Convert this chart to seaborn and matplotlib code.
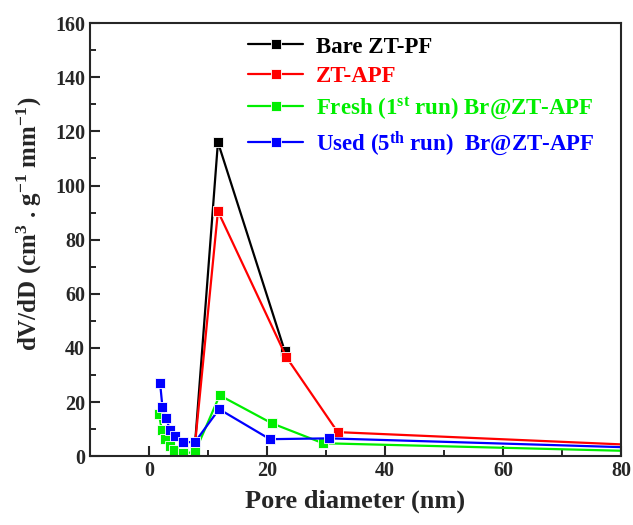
"""Pore size distribution of the ZT-PF samples"""

import numpy as np
import pandas as pd
import matplotlib.pyplot as plt
import seaborn as sns
from matplotlib.ticker import MultipleLocator

# values
bare_x = [7.8, 11.7, 23.0]
bare_y = [4.0, 116.0, 39.0]

apf_x = [7.8, 11.7, 23.3, 32.0, 84.0]
apf_y = [4.0, 90.5, 36.6, 8.9, 4.0]

fresh_x = [1.7, 2.2, 2.7, 3.6, 4.3, 5.7, 7.8, 12.0, 20.8, 29.5, 84.0]
fresh_y = [15.5, 9.6, 6.3, 3.7, 2.2, 1.1, 1.5, 22.5, 12.2, 4.8, 1.8]

used_x = [1.9, 2.3, 2.9, 3.6, 4.4, 5.7, 7.8, 11.9, 20.5, 30.5, 84.0]
used_y = [27.0, 18.0, 14.0, 9.6, 7.4, 5.2, 5.2, 17.4, 6.3, 6.6, 3.1]

labels = ["Bare ZT-PF",
          "ZT-APF",
          r"Fresh (1$^{\mathbf{st}}$ run) Br@ZT-APF",
          r"Used (5$^{\mathbf{th}}$ run)  Br@ZT-APF"]
colors = ["black", "#ff0000", "#00ee00", "#0000ff"]

sns.set_style("ticks")
plt.rcParams["font.family"] = ["Liberation Serif", "DejaVu Serif"]
plt.rcParams["font.weight"] = "bold"
plt.rcParams["mathtext.fontset"] = "custom"
plt.rcParams["mathtext.rm"] = "Liberation Serif:bold"
plt.rcParams["mathtext.bf"] = "Liberation Serif:bold"
plt.rcParams["mathtext.it"] = "Liberation Serif:bold"

fig = plt.figure(figsize=(6.33, 5.25), dpi=100)
ax = fig.add_axes([0.142, 0.131, 0.839, 0.825])

series = [(bare_x, bare_y), (apf_x, apf_y), (fresh_x, fresh_y), (used_x, used_y)]
for (xs, ys), label, color in zip(series, labels, colors):
    df = pd.DataFrame({"d": xs, "v": ys})
    sns.lineplot(data=df, x="d", y="v", ax=ax, sort=False, color=color,
                 marker="s", markersize=7.5, markeredgecolor="white",
                 markeredgewidth=0.6, linewidth=1.6, label=label)

ax.set_xlim(-10, 80)
ax.set_ylim(0, 160)
ax.xaxis.set_major_locator(MultipleLocator(20))
ax.xaxis.set_minor_locator(MultipleLocator(10))
ax.yaxis.set_major_locator(MultipleLocator(20))
ax.yaxis.set_minor_locator(MultipleLocator(10))
ax.tick_params(which="major", direction="in", length=7, width=1.5,
               labelsize=14.5, top=False, right=False)
ax.tick_params(which="minor", direction="in", length=4, width=1.4,
               top=False, right=False)
for lab in ax.get_xticklabels() + ax.get_yticklabels():
    lab.set_fontweight("bold")
for sp in ax.spines.values():
    sp.set_linewidth(1.5)

ax.set_xlabel("Pore diameter (nm)", fontsize=19, fontweight="bold", labelpad=6)
ax.set_ylabel(r"dV/dD (cm$^3$ . g$^{-1}$ mm$^{-1}$)", fontsize=18,
              fontweight="bold")
ax.yaxis.set_label_coords(-0.086, 0.536)

leg = ax.legend(loc="upper left", bbox_to_anchor=(0.378, 0.948),
                bbox_transform=fig.transFigure, frameon=False,
                fontsize=16.5, handlelength=2.4, handletextpad=0.55,
                labelspacing=0.36, labelcolor="linecolor", borderaxespad=0)
for txt in leg.get_texts():
    txt.set_fontweight("bold")

plt.savefig("out.png", dpi=100)
